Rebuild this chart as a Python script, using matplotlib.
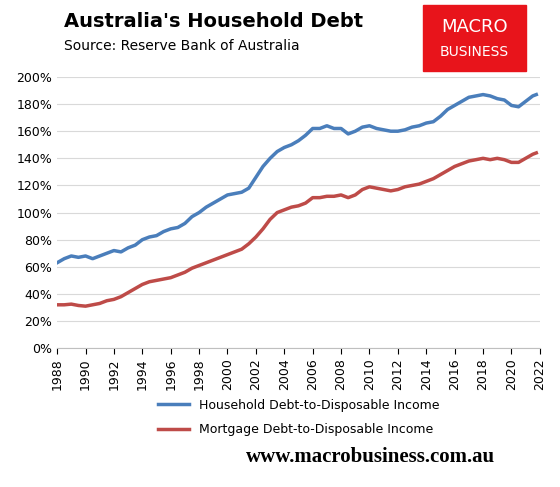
import matplotlib
matplotlib.use("AGG")
import matplotlib.pyplot as plt
from matplotlib.patches import Rectangle

years = [1988 + 0.5 * i for i in range(68)] + [2021.75]
household = [63, 66, 68, 67, 68, 66, 68, 70, 72, 71, 74, 76, 80, 82, 83, 86, 88, 89,
             92, 97, 100, 104, 107, 110, 113, 114, 115, 118, 126, 134, 140, 145, 148, 150,
             153, 157, 162, 162, 164, 162, 162, 158, 160, 163, 164, 162, 161, 160, 160, 161,
             163, 164, 166, 167, 171, 176, 179, 182, 185, 186, 187, 186, 184, 183, 179, 178,
             182, 186, 187]
mortgage = [32, 32, 32.5, 31.5, 31, 32, 33, 35, 36, 38, 41, 44, 47, 49, 50, 51, 52, 54,
            56, 59, 61, 63, 65, 67, 69, 71, 73, 77, 82, 88, 95, 100, 102, 104,
            105, 107, 111, 111, 112, 112, 113, 111, 113, 117, 119, 118, 117, 116, 117, 119,
            120, 121, 123, 125, 128, 131, 134, 136, 138, 139, 140, 139, 140, 139, 137, 137,
            140, 143, 144]
xticks = list(range(1988, 2023, 2))

fig = plt.figure(figsize=(5.6, 4.87), dpi=100)
ax = fig.add_axes([0.102, 0.285, 0.862, 0.557])
ax.plot(years, household, color="#4a7ebb", lw=2.5, label="Household Debt-to-Disposable Income")
ax.plot(years, mortgage, color="#be4b48", lw=2.5, label="Mortgage Debt-to-Disposable Income")
ax.set_xlim(1988, 2022)
ax.set_ylim(0, 200)
ax.set_yticks(range(0, 201, 20))
ax.set_yticklabels([f"{v}%" for v in range(0, 201, 20)])
ax.set_xticks(xticks)
ax.set_xticklabels([str(x) for x in xticks], rotation=90)
ax.tick_params(labelsize=9, length=0)
ax.tick_params(axis="x", length=4, direction="out")
ax.grid(axis="y", color="#d9d9d9", lw=0.8)
for s in ["top", "right", "left"]:
    ax.spines[s].set_visible(False)
ax.spines["bottom"].set_color("#bfbfbf")

ax.legend(loc="upper center", bbox_to_anchor=(0.5, -0.145), frameon=False, fontsize=9,
          handlelength=2.5, labelspacing=0.9)

fig.text(0.115, 0.955, "Australia's Household Debt", fontsize=14, fontweight="bold", va="center")
fig.text(0.115, 0.905, "Source: Reserve Bank of Australia", fontsize=10, va="center")
fig.patches.append(Rectangle((0.755, 0.855), 0.185, 0.135, transform=fig.transFigure,
                             color="#e8141b", zorder=0))
fig.text(0.847, 0.945, "MACRO", color="white", fontsize=13, ha="center", va="center")
fig.text(0.847, 0.893, "BUSINESS", color="white", fontsize=10, ha="center", va="center")
fig.text(0.44, 0.062, "www.macrobusiness.com.au", fontsize=15, fontweight="bold",
         family="Liberation Serif", va="center")
fig.savefig("out.png")
